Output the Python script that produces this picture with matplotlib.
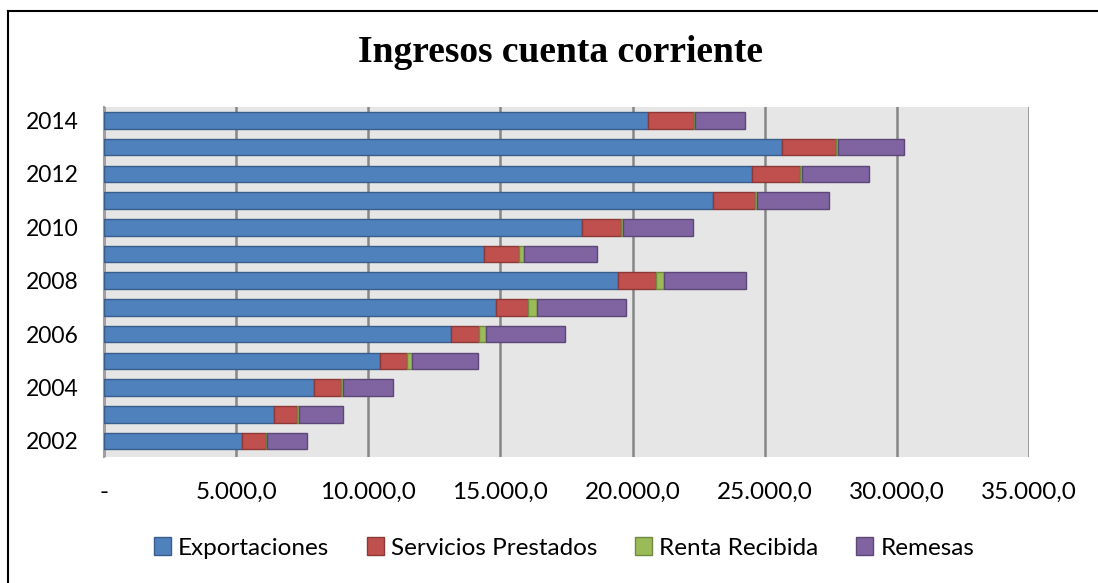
import matplotlib
matplotlib.use("Agg")
import matplotlib.pyplot as plt
from matplotlib.lines import Line2D
import numpy as np

# data (millions)
years = [2002, 2003, 2004, 2005, 2006, 2007, 2008, 2009, 2010, 2011, 2012, 2013, 2014]
exportaciones = [5240, 6420, 7930, 10430, 13130, 14830, 19430, 14370, 18090, 23040, 24520, 25640, 20570]
servicios = [880, 900, 1020, 1020, 1060, 1230, 1440, 1340, 1490, 1580, 1830, 2040, 1750]
renta = [50, 50, 90, 200, 260, 310, 310, 200, 60, 80, 70, 90, 60]
remesas = [1500, 1670, 1880, 2490, 2990, 3380, 3130, 2750, 2640, 2720, 2520, 2500, 1880]
series_names = ["Exportaciones", "Servicios Prestados", "Renta Recibida", "Remesas"]
x_ticks = [0, 5000, 10000, 15000, 20000, 25000, 30000, 35000]

colors = ["#4F81BD", "#C0504D", "#9BBB59", "#8064A2"]
edges = ["#385D8A", "#8C3836", "#71893F", "#5C4776"]

W, H = 1098, 583
fig = plt.figure(figsize=(W / 100, H / 100), dpi=100)
ax = fig.add_axes([104 / W, (H - 457) / H, (1029 - 104) / W, (457 - 107) / H])

ypos = np.arange(len(years))
left = np.zeros(len(years))
for vals, name, c, e in zip([exportaciones, servicios, renta, remesas], series_names, colors, edges):
    ax.barh(ypos, vals, left=left, height=0.62, color=c, edgecolor=e, linewidth=1.0,
            label=name, zorder=3)
    left += np.array(vals)

ax.set_facecolor("#E6E6E6")
ax.set_xlim(0, 35000)
ax.set_ylim(-0.6, 12.5)
ax.set_xticks(x_ticks)


def fmt(v):
    if v == 0:
        return "-"
    return f"{v:,.1f}".replace(",", "X").replace(".", ",").replace("X", ".")


ax.set_xticklabels([fmt(v) for v in x_ticks])
ax.set_yticks(ypos[::2])
ax.set_yticklabels([str(y) for y in years[::2]])
ax.grid(axis="x", color="#868686", linewidth=1.8, zorder=1)
for s in ["top", "right", "bottom"]:
    ax.spines[s].set_visible(False)
ax.spines["left"].set_color("#A0A0A0")
ax.spines["left"].set_linewidth(1.5)
ax.tick_params(axis="both", length=0)
ax.tick_params(axis="y", pad=18, labelsize=16.5)
ax.tick_params(axis="x", pad=18, labelsize=17.5)
for lab in ax.get_xticklabels() + ax.get_yticklabels():
    lab.set_fontfamily("Lato")

fig.text(560 / W, 1 - 52 / H, "Ingresos cuenta corriente", ha="center", va="center",
         fontfamily="Liberation Serif", fontweight="bold", fontsize=27)

handles, labels = ax.get_legend_handles_labels()
fig.legend(handles, labels, loc="center", bbox_to_anchor=(564 / W, 1 - 548 / H), ncol=4,
           frameon=False, handlelength=0.7, handleheight=0.7, handletextpad=0.3,
           columnspacing=1.55, prop={"family": "Lato", "size": 17.5})

# outer chart frame (only left and top edges fall inside the picture)
fig.add_artist(Line2D([8 / W, 8 / W], [0, 1 - 11 / H], color="black", linewidth=1.5))
fig.add_artist(Line2D([8 / W, 1], [1 - 11 / H, 1 - 11 / H], color="black", linewidth=1.5))

fig.savefig("out.png", dpi=100)
